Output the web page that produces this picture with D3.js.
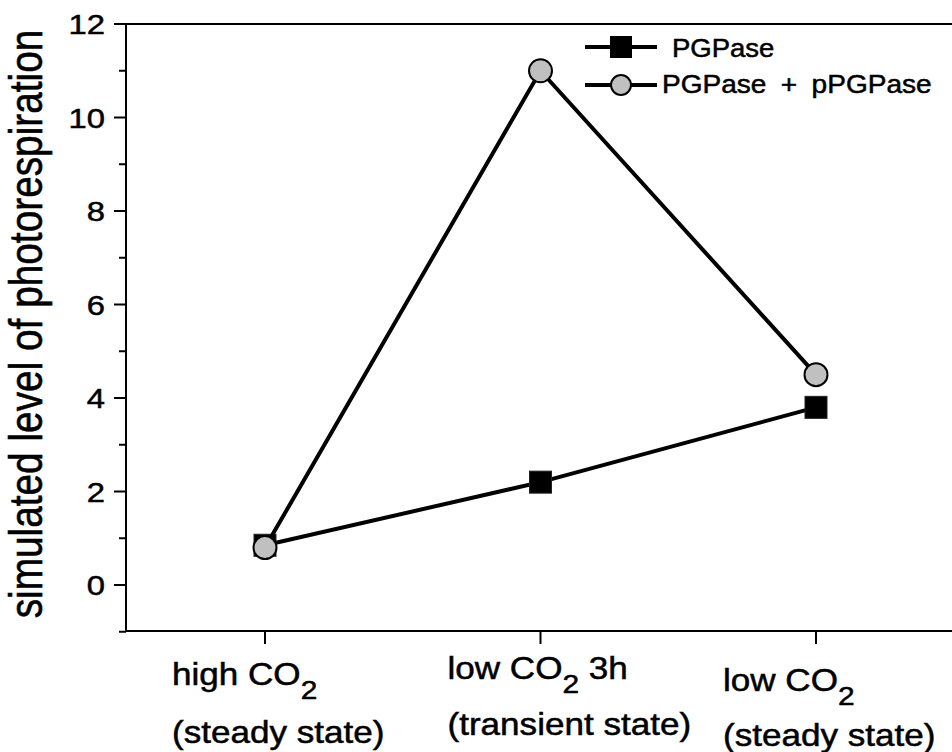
<!DOCTYPE html>
<html>
<head>
<meta charset="utf-8">
<script src="https://cdn.jsdelivr.net/npm/d3@7"></script>
<style>
  html, body { margin: 0; padding: 0; background: #fff; }
  svg { display: block; }
  text { font-family: "Liberation Sans", Arial, sans-serif; fill: #000; stroke: #000; stroke-width: 0.5; }
</style>
</head>
<body>
<svg id="chart" width="952" height="752"></svg>
<script>
// ---- data ----
const categories = [
  ["high CO", "2", "", "(steady state)"],
  ["low CO", "2", " 3h", "(transient state)"],
  ["low CO", "2", "", "(steady state)"]
];
const pgpase = [0.85, 2.2, 3.8];
const pgpasePlus = [0.8, 11, 4.5];
const seriesNames = ["PGPase", "PGPase + pPGPase"];
const yTicks = [0, 2, 4, 6, 8, 10, 12];
const yMinorTicks = [-1, 1, 3, 5, 7, 9, 11];
const yTitle = "simulated level of photorespiration";

// ---- layout ----
const svg = d3.select("#chart");
const axisLeft = 126, axisBottom = 631, axisTop = 24;
const x = d3.scaleLinear().domain([-0.5, 2.5]).range([127.25, 953.75]);
const y = d3.scaleLinear().domain([-1, 12]).range([631.75, 24]);

// frame / axes
svg.append("line").attr("x1", axisLeft).attr("x2", axisLeft)
  .attr("y1", axisTop - 1).attr("y2", axisBottom + 1)
  .attr("stroke", "#000").attr("stroke-width", 2);
svg.append("line").attr("x1", axisLeft - 12).attr("x2", 952)
  .attr("y1", axisTop).attr("y2", axisTop)
  .attr("stroke", "#000").attr("stroke-width", 2);
svg.append("line").attr("x1", axisLeft - 1).attr("x2", 952)
  .attr("y1", axisBottom).attr("y2", axisBottom)
  .attr("stroke", "#000").attr("stroke-width", 2);

// y ticks
const yg = svg.append("g");
yg.selectAll("line.maj").data(yTicks).join("line").attr("class", "maj")
  .attr("x1", axisLeft - 12).attr("x2", axisLeft)
  .attr("y1", d => y(d)).attr("y2", d => y(d))
  .attr("stroke", "#000").attr("stroke-width", 2);
yg.selectAll("line.min").data(yMinorTicks).join("line").attr("class", "min")
  .attr("x1", axisLeft - 7).attr("x2", axisLeft)
  .attr("y1", d => y(d)).attr("y2", d => y(d))
  .attr("stroke", "#000").attr("stroke-width", 2);
yg.selectAll("text").data(yTicks).join("text")
  .attr("transform", d => `translate(105,${y(d) + 10}) scale(1.15,1)`)
  .attr("text-anchor", "end")
  .attr("font-size", 28.5)
  .text(d => d);

// y title
svg.append("text")
  .attr("transform", "translate(42,324) rotate(-90) scale(1,1.2)")
  .attr("text-anchor", "middle")
  .attr("font-size", 38.8)
  .text(yTitle);

// x ticks
svg.selectAll("line.xt").data(categories).join("line").attr("class", "xt")
  .attr("x1", (d, i) => x(i)).attr("x2", (d, i) => x(i))
  .attr("y1", axisBottom).attr("y2", axisBottom + 13)
  .attr("stroke", "#000").attr("stroke-width", 2);

// x labels
const labelDy = [[685, 743], [679, 735], [691, 746]];
categories.forEach((c, i) => {
  const g = svg.append("g");
  const t1 = g.append("text")
    .attr("transform", `translate(${x(i) - 93},${labelDy[i][0]}) scale(1.15,1)`)
    .attr("font-size", 30.5);
  t1.append("tspan").text(c[0]);
  t1.append("tspan").attr("dy", 14).attr("font-size", 26).text(c[1]);
  if (c[2]) t1.append("tspan").attr("dy", -14).text(c[2]);
  g.append("text")
    .attr("transform", `translate(${x(i) - 93},${labelDy[i][1]}) scale(1.15,1)`)
    .attr("font-size", 30.5)
    .text(c[3]);
});

// series lines
const line = d3.line().x((d, i) => x(i)).y(d => y(d));
svg.append("path").datum(pgpase).attr("d", line)
  .attr("fill", "none").attr("stroke", "#000").attr("stroke-width", 4);
svg.selectAll("rect.sq").data(pgpase).join("rect").attr("class", "sq")
  .attr("x", (d, i) => x(i) - 11).attr("y", d => y(d) - 11)
  .attr("width", 22).attr("height", 22)
  .attr("fill", "#000").attr("stroke", "#222").attr("stroke-width", 1);

svg.append("path").datum(pgpasePlus).attr("d", line)
  .attr("fill", "none").attr("stroke", "#000").attr("stroke-width", 4);
svg.selectAll("circle.ci").data(pgpasePlus).join("circle").attr("class", "ci")
  .attr("cx", (d, i) => x(i)).attr("cy", d => y(d)).attr("r", 11.5)
  .attr("fill", "#c0c0c0").attr("stroke", "#000").attr("stroke-width", 2);

// legend
const lg = svg.append("g");
[47, 85].forEach((ly) => {
  lg.append("line").attr("x1", 585).attr("x2", 657).attr("y1", ly).attr("y2", ly)
    .attr("stroke", "#000").attr("stroke-width", 4);
});
lg.append("rect").attr("x", 610).attr("y", 36).attr("width", 22).attr("height", 22)
  .attr("fill", "#000");
lg.append("circle").attr("cx", 621).attr("cy", 85).attr("r", 10)
  .attr("fill", "#c0c0c0").attr("stroke", "#000").attr("stroke-width", 2);
lg.append("text").attr("transform", "translate(672,57) scale(1.1,1)")
  .attr("font-size", 25).text(seriesNames[0]);
lg.append("text").attr("transform", "translate(662,93) scale(1.1,1)")
  .attr("font-size", 25.5).attr("word-spacing", 6).text(seriesNames[1]);
</script>
</body>
</html>
